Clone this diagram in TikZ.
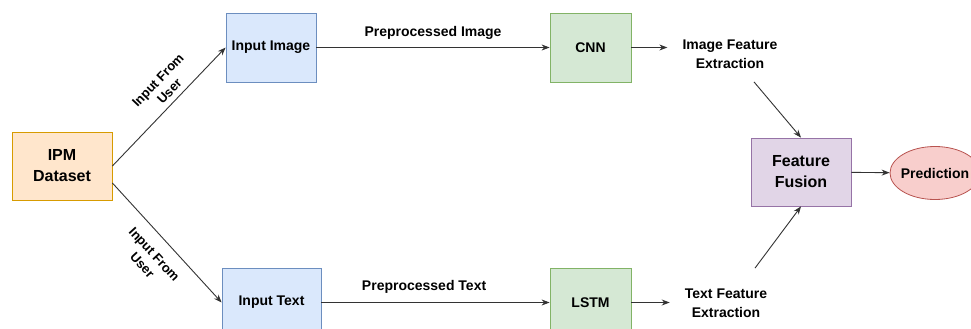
\documentclass[tikz,border=0pt]{standalone}
\usepackage{fontspec}
\setmainfont{Liberation Sans}
\usepackage{tikz}
\usetikzlibrary{shapes, arrows.meta, positioning}
\usepackage{xcolor}

\definecolor{dsFill}{HTML}{FFE6CC}
\definecolor{dsDraw}{HTML}{D79B00}
\definecolor{inFill}{HTML}{DAE8FC}
\definecolor{inDraw}{HTML}{6C8EBF}
\definecolor{nnFill}{HTML}{D5E8D4}
\definecolor{nnDraw}{HTML}{82B366}
\definecolor{fuFill}{HTML}{E1D5E7}
\definecolor{fuDraw}{HTML}{9673A6}
\definecolor{prFill}{HTML}{F8CECC}
\definecolor{prDraw}{HTML}{B85450}

\begin{document}
\begin{tikzpicture}[
    x=1pt, y=-1pt,
    box/.style={rectangle, draw, line width=0.8pt, minimum width=90pt, minimum height=69pt, align=center, font=\bfseries\fontsize{14}{17}\selectfont},
    big/.style={minimum width=100pt, minimum height=68pt, font=\bfseries\fontsize{16}{21}\selectfont},
    feat/.style={align=center, inner xsep=15pt, font=\bfseries\fontsize{14}{19}\selectfont},
    tag/.style={align=center, font=\bfseries\fontsize{13}{16}\selectfont},
    flow/.style={->, >={Stealth[length=8pt, width=6pt]}, line width=0.9pt, draw=black!80}
]

\useasboundingbox (0,0) rectangle (971,329);
\fill[white] (0,0) rectangle (971,329);

% 定义节点
\node[box, big, fill=dsFill, draw=dsDraw] (Dataset) at (62,166) {IPM\\Dataset};
\node[box, fill=inFill, draw=inDraw] (InputImage) at (271,47.5) {Input Image};
\node[box, fill=inFill, draw=inDraw, minimum width=99pt] (InputText) at (271.5,302.5) {Input Text};
\node[box, fill=nnFill, draw=nnDraw, minimum width=81pt] (CNN) at (590.5,47.5) {CNN};
\node[box, fill=nnFill, draw=nnDraw, minimum width=81pt] (LSTM) at (590.5,302.5) {LSTM};
\node[feat] (ImgFeat) at (730,54) {Image Feature\\Extraction};
\node[feat] (TxtFeat) at (726,303) {Text Feature\\Extraction};
\node[box, big, fill=fuFill, draw=fuDraw] (Fusion) at (801,172) {Feature\\Fusion};
\node[ellipse, draw=prDraw, fill=prFill, line width=0.8pt, minimum width=90pt, minimum height=53pt,
      inner xsep=-4pt, inner ysep=0pt, font=\bfseries\fontsize{14}{17}\selectfont] (Prediction) at (935,173) {Prediction};

% 绘制箭头
\draw[flow] (Dataset.east) -- node[tag, sloped, above=2pt, pos=0.57] {Input From\\User} (InputImage.west);
\draw[flow] ([yshift=-17pt]Dataset.east) -- node[tag, sloped, below=9pt, pos=0.5] {Input From\\User} (InputText.west);
\draw[flow] (InputImage) -- node[feat, inner xsep=3pt, above=4.5pt] {Preprocessed Image} (CNN);
\draw[flow] (InputText) -- node[feat, inner xsep=3pt, above=5pt, pos=0.45] {Preprocessed Text} (LSTM);
\draw[flow] (CNN) -- (CNN -| ImgFeat.west);
\draw[flow] (LSTM) -- (LSTM -| TxtFeat.west);
\draw[flow] ([xshift=24pt, yshift=-10pt]ImgFeat.south) -- (Fusion.north);
\draw[flow] ([xshift=29pt, yshift=17pt]TxtFeat.north) -- (Fusion.south);
\draw[flow] (Fusion) -- (Prediction);

\end{tikzpicture}
\end{document}
